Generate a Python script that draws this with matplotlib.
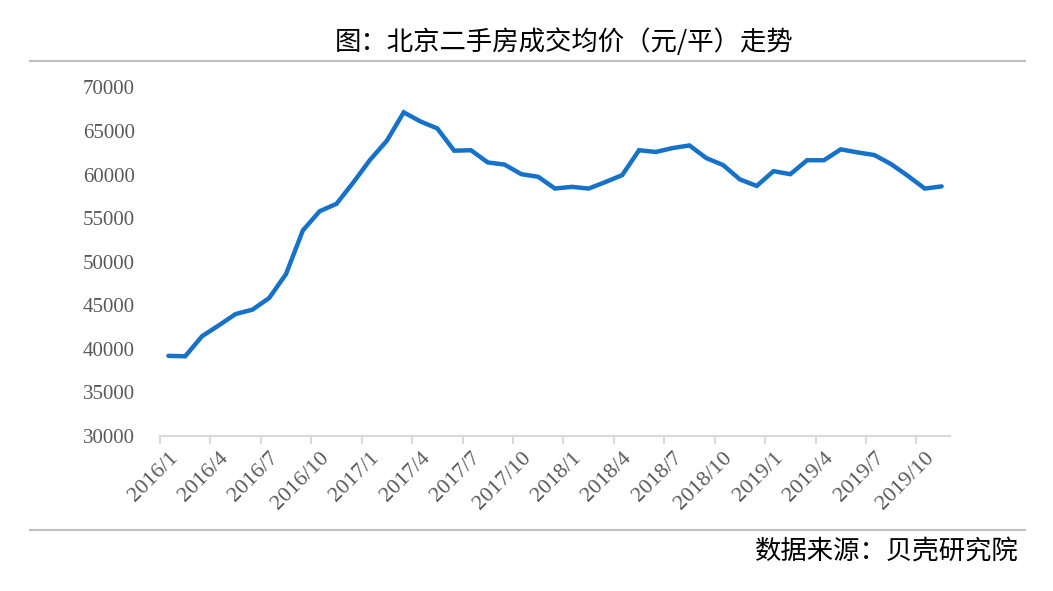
import matplotlib
matplotlib.use("Agg")
import matplotlib.pyplot as plt
from matplotlib.lines import Line2D

plt.rcParams['font.family'] = ['Noto Sans CJK SC', 'DejaVu Sans']

# ---- data ----
months = [f"{y}/{m}" for y in range(2016, 2020) for m in range(1, 13)][:47]
prices = [39200, 39150, 41450, 42700, 44000, 44500, 45850, 48600, 53600, 55800,
          56650, 59100, 61700, 63900, 67150, 66100, 65300, 62750, 62800, 61400,
          61150, 60050, 59750, 58400, 58600, 58400, 59150, 59950, 62800, 62600,
          63050, 63350, 61900, 61100, 59450, 58700, 60400, 60050, 61650, 61650,
          62900, 62550, 62250, 61200, 59850, 58400, 58650]
yticks = [30000, 35000, 40000, 45000, 50000, 55000, 60000, 65000, 70000]
title = "图：北京二手房成交均价（元/平）走势"
source = "数据来源：贝壳研究院"

W, H = 1053, 591
fig = plt.figure(figsize=(W / 100, H / 100), dpi=100)
fig.patch.set_facecolor('white')

ax_left, ax_right, ax_bottom, ax_top = 160, 950, 436, 87.5
ax = fig.add_axes([ax_left / W, 1 - ax_bottom / H, (ax_right - ax_left) / W, (ax_bottom - ax_top) / H])

x = list(range(len(prices)))
ax.plot(x, prices, color='#1672c9', lw=3.2, solid_joinstyle='miter', solid_capstyle='round')

ax.set_xlim(-0.5, len(prices) - 0.5)
ax.set_ylim(30000, 70000)

for s in ['left', 'right', 'top']:
    ax.spines[s].set_visible(False)
ax.spines['bottom'].set_color('#d9d9d9')
ax.spines['bottom'].set_linewidth(1.5)

serif = ['Liberation Serif', 'DejaVu Serif']
ax.set_yticks(yticks)
ax.set_yticklabels([str(v) for v in yticks], family=serif, fontsize=15, color='#595959')
ax.tick_params(axis='y', length=0, pad=18)

# major ticks at category boundaries every 3 months, labels at category centres
label_idx = list(range(0, len(prices), 3))
ax.set_xticks([i - 0.5 for i in label_idx])
ax.set_xticklabels([])
ax.tick_params(axis='x', which='major', length=6, width=1.5, color='#d9d9d9', direction='out')
ax.set_xticks(label_idx, minor=True)
ax.set_xticklabels([months[i] for i in label_idx], minor=True, family=serif,
                   fontsize=16, color='#595959', rotation=45, ha='right',
                   va='top', rotation_mode='anchor')
ax.tick_params(axis='x', which='minor', length=0, pad=9)

# title and source
fig.text(564 / W, 1 - 42 / H, title, ha='center', va='center', fontsize=19, color='black')
fig.text(1019 / W, 1 - 551 / H, source, ha='right', va='center', fontsize=19, color='black')

# decorative horizontal rules
fig.add_artist(Line2D([30 / W, 1025 / W], [1 - 61 / H] * 2, color='#bfbfbf', lw=1.5))
fig.add_artist(Line2D([30 / W, 1025 / W], [1 - 529.5 / H] * 2, color='#bfbfbf', lw=1.5))

fig.savefig('out.png', dpi=100, facecolor='white')
